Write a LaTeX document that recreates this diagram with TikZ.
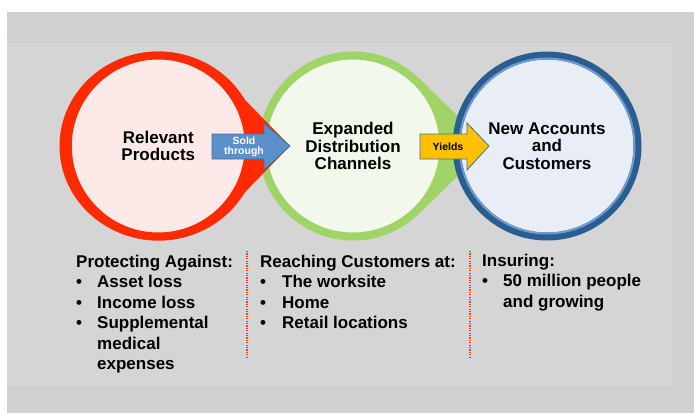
\documentclass[tikz,border=0pt]{standalone}
\usepackage{fontspec}
\setmainfont{Liberation Sans}
\usetikzlibrary{calc}
\definecolor{outergray}{HTML}{D0D0D2}
\definecolor{panelgray}{HTML}{D5D5D5}
\definecolor{ringred}{HTML}{FF2A00}
\definecolor{fillred}{HTML}{FDE9E7}
\definecolor{ringgreen}{HTML}{A0D467}
\definecolor{fillgreen}{HTML}{F3F8EC}
\definecolor{ringblue}{HTML}{2A5E91}
\definecolor{bandblue}{HTML}{6F9BCD}
\definecolor{fillblue}{HTML}{E9EEF6}
\definecolor{arrowblue}{HTML}{5B8FC9}
\definecolor{arrowedge}{HTML}{41719C}
\definecolor{arrowgold}{HTML}{FFC000}
\definecolor{sepred}{HTML}{FF3B1F}

\begin{document}
\begin{tikzpicture}[x=1pt,y=-1pt,
    bigcircle/.style={circle,line width=8pt,minimum size=181pt,inner sep=0pt,align=center,
      font=\bfseries\fontsize{17}{17.7}\selectfont},
    arrowtxt/.style={inner sep=0pt,align=center,font=\bfseries\fontsize{10.5}{10}\selectfont},
    listtxt/.style={anchor=base west,inner sep=0pt,font=\bfseries\fontsize{17}{20.5}\selectfont},
    sepline/.style={sepred,line width=1.2pt,dash pattern=on 1.2pt off 1.2pt}]
    \useasboundingbox (0,0) rectangle (694,413);
    \fill[white] (0,0) rectangle (694,413);
    \fill[outergray] (7,12) rectangle (694,413);
    \fill[panelgray] (7,43) rectangle (672,386);
    % green teardrop
    \coordinate (gtip) at (489,146);
    \fill[ringgreen] ($(353,146)+(46:94.5)$) -- (gtip) -- ($(353,146)+(-46:94.5)$) -- cycle;
    \node[bigcircle,draw=ringgreen,fill=fillgreen] (chan) at (353,146) {Expanded\\Distribution\\Channels};
    % red teardrop
    \coordinate (rtip) at (290,146);
    \fill[ringred] ($(158,146)+(44.3:94.5)$) -- (rtip) -- ($(158,146)+(-44.3:94.5)$) -- cycle;
    \fill[ringred] (158.5,146) ellipse (99 and 94.5);
    \node[bigcircle,draw=ringred,fill=fillred] (prod) at (158.3,146) {Relevant\\Products};
    % blue circle
    \node[bigcircle,draw=ringblue,fill=fillblue] (cust) at (547,146) {New Accounts\\and\\Customers};
    \draw[bandblue,line width=2pt] (cust.center) circle (87.5);
    % arrows
    \draw[fill=arrowblue,draw=arrowedge,line width=0.8pt] (212,134) -- (264,134) -- (264,123) -- (rtip)
      -- (264,170) -- (264,159) -- (212,159) -- cycle;
    \node[arrowtxt,white] (sold) at (244,146.5) {Sold\\through};
    \draw[fill=arrowgold,draw=arrowedge,line width=0.8pt] (420,134) -- (467,134) -- (467,123) -- (gtip)
      -- (467,170) -- (467,159) -- (420,159) -- cycle;
    \node[arrowtxt] (yld) at (448,146.5) {Yields};
    % separators
    \draw[sepline] (247,251) -- (247,357);
    \draw[sepline] (470,251) -- (470,357);
    % column 1
    \node[listtxt] (pa) at (76,267) {Protecting Against:};
    \node[listtxt] (pb1) at (76,287.5) {•};
    \node[listtxt] (pi1) at (97,287.5) {Asset loss};
    \node[listtxt] (pb2) at (76,308) {•};
    \node[listtxt] (pi2) at (97,308) {Income loss};
    \node[listtxt] (pb3) at (76,328.5) {•};
    \node[listtxt] (pi3) at (97,328.5) {Supplemental};
    \node[listtxt] (pi3b) at (97,349) {medical};
    \node[listtxt] (pi3c) at (97,369.5) {expenses};
    % column 2
    \node[listtxt] (rc) at (260,267) {Reaching Customers at:};
    \node[listtxt] (rb1) at (260,287.5) {•};
    \node[listtxt] (ri1) at (282,287.5) {The worksite};
    \node[listtxt] (rb2) at (260,308) {•};
    \node[listtxt] (ri2) at (282,308) {Home};
    \node[listtxt] (rb3) at (260,328.5) {•};
    \node[listtxt] (ri3) at (282,328.5) {Retail locations};
    % column 3
    \node[listtxt] (in) at (482,266.5) {Insuring:};
    \node[listtxt] (ib1) at (482,286.5) {•};
    \node[listtxt] (ii1) at (503,286.5) {50 million people};
    \node[listtxt] (ii1b) at (503,307) {and growing};
\end{tikzpicture}
\end{document}
